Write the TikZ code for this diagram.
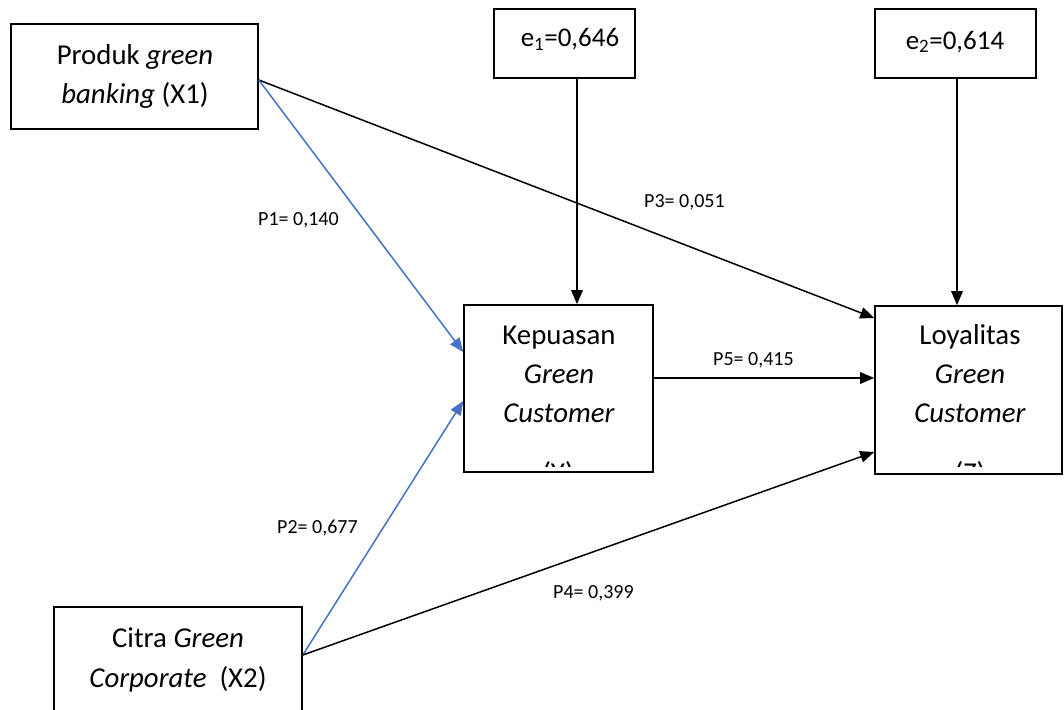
\documentclass[tikz,border=0pt]{standalone}
\usepackage{fontspec}
\setmainfont{Carlito}
\usetikzlibrary{arrows.meta}
\definecolor{linkblue}{RGB}{68,114,196}
\begin{document}
\begin{tikzpicture}[x=1pt,y=-1pt,
  box/.style={draw=black, line width=1.6pt, inner sep=0pt},
  txt/.style={font=\fontsize{28.8}{39}\selectfont, inner sep=0pt, anchor=base},
  etxt/.style={font=\fontsize{27}{33}\selectfont, inner sep=0pt, anchor=base},
  coef/.style={font=\fontsize{20}{24}\selectfont, inner sep=0pt, anchor=base west},
  link/.style={line width=1.5pt, -{Triangle[length=14pt,width=11.5pt]}},
  bluelink/.style={link, draw=linkblue, fill=linkblue}]
\useasboundingbox (0,0) rectangle (1064,709);
\clip (0,0) rectangle (1064,709);

% boxes
\node[box, minimum width=247pt, minimum height=105pt] (x1) at (134.5,76.5) {};
\node[box, minimum width=248pt, minimum height=133pt] (x2) at (178,673.5) {};
\node[box, minimum width=141pt, minimum height=69pt] (e1) at (564.5,43.5) {};
\node[box, minimum width=161pt, minimum height=69pt] (e2) at (955.5,43.5) {};
\node[box, minimum width=189pt, minimum height=167pt] (kep) at (558.5,388.5) {};
\node[box, minimum width=187pt, minimum height=168pt] (loy) at (968.5,390) {};

% box texts
\node[txt] (x1a) at (135,64) {Produk \textit{green}};
\node[txt] (x1b) at (135,103) {\textit{banking} (X1)};
\node[txt] (x2a) at (178,647) {Citra \textit{Green}};
\node[txt] (x2b) at (178,687) {\textit{Corporate}\hspace{0.45em}(X2)};
\node[etxt] (e1t) at (570,47) {e\textsubscript{1}=0,646};
\node[etxt] (e2t) at (955,49) {e\textsubscript{2}=0,614};
\node[txt] (kepa) at (559,344) {Kepuasan};
\node[txt] (kepb) at (559,383) {\textit{Green}};
\node[txt] (kepc) at (559,422) {\textit{Customer}};
\node[txt] (loya) at (970,344) {Loyalitas};
\node[txt] (loyb) at (970,383) {\textit{Green}};
\node[txt] (loyc) at (970,422) {\textit{Customer}};
\begin{scope}
  \clip (464,400) rectangle (653,466);
  \node[txt] (kepd) at (558,482) {(Y)};
\end{scope}
\begin{scope}
  \clip (875,400) rectangle (1062,466);
  \node[txt] (loyd) at (970,482) {(Z)};
\end{scope}

% paths
\draw[link] ([yshift=-3.5pt]x1.east) -- ([yshift=72pt]loy.west);
\draw[bluelink] ([yshift=-3.5pt]x1.east) -- ([yshift=36.5pt]kep.west);
\draw[bluelink] ([yshift=18.5pt]x2.east) -- ([yshift=-12.5pt]kep.west);
\draw[link] ([yshift=18.5pt]x2.east) -- ([yshift=-62pt]loy.west);
\draw[link] ([yshift=10.5pt]kep.east) -- ([yshift=12pt]loy.west);
\draw[link] ([xshift=12.5pt]e1.south) -- ([xshift=18.5pt]kep.north);
\draw[link] ([xshift=1.5pt]e2.south) -- ([xshift=-11.5pt]loy.north);

% path coefficients
\node[coef] (p1) at (258,225) {P1= 0,140};
\node[coef] (p3) at (644,207) {P3= 0,051};
\node[coef] (p5) at (713,365) {P5= 0,415};
\node[coef] (p2) at (277,533) {P2= 0,677};
\node[coef] (p4) at (553,598) {P4= 0,399};
\end{tikzpicture}
\end{document}
